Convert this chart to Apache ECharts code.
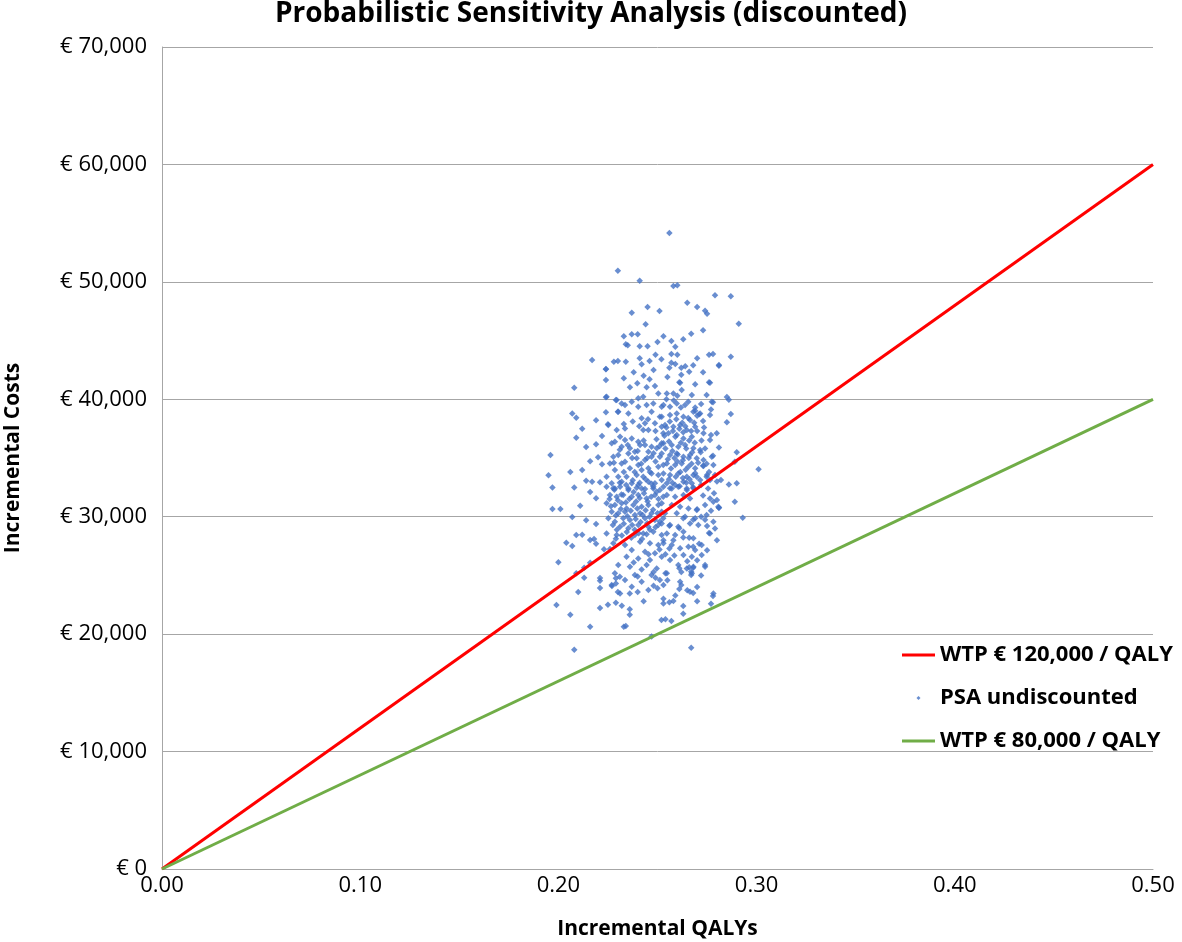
<!DOCTYPE html>
<html>
<head>
<meta charset="utf-8">
<script src="https://cdn.jsdelivr.net/npm/echarts@6/dist/echarts.min.js"></script>
<style>
html, body { margin: 0; padding: 0; background: #fff; }
#chart { width: 1182px; height: 942px; }
</style>
</head>
<body>
<div id="chart"></div>
<script>
// WTP threshold lines (QALY, cost)
var wtp120Line = [[0, 0], [0.5, 60000]];
var wtp80Line = [[0, 0], [0.5, 40000]];

// PSA iterations (QALY, cost)
var psaPoints = [
	// outliers, top
	[0.230,50950],[0.241,50100],[0.245,47860],[0.237,47370],[0.244,46390],[0.233,45360],[0.237,45530],[0.240,45530],[0.234,44680],[0.235,44600],
	[0.241,44510],[0.245,44510],[0.217,43350],[0.224,42580],[0.228,43200],[0.230,43260],[0.234,43200],[0.241,43490],[0.246,43260],[0.242,42980],
	[0.256,54160],[0.258,49650],[0.260,49710],[0.279,48860],[0.287,48770],[0.265,48220],[0.270,47860],[0.274,47540],[0.275,47290],[0.251,47520],
	[0.291,46440],[0.273,45870],[0.267,45590],[0.263,45110],[0.253,45360],[0.250,44880],[0.257,44960],[0.259,44480],[0.249,43800],[0.257,43860],
	[0.260,43800],[0.276,43800],[0.278,43860],[0.287,43630],[0.281,42860],[0.257,43120],[0.259,43010],[0.264,42810],[0.262,42690],[0.256,42690],
	[0.238,42300],[0.243,42000],[0.248,42500],[0.252,43400],[0.255,41900],[0.262,42100],[0.268,42900],[0.233,41800],[0.246,41700],[0.270,43500],
	// left side
	[0.224,42550],[0.224,41640],[0.208,40990],[0.224,40170],[0.229,39940],[0.207,38800],[0.209,38430],[0.219,38210],[0.224,38890],[0.230,38940],
	[0.225,37870],[0.212,37500],[0.209,36730],[0.214,35940],[0.222,36870],[0.219,36170],[0.196,35260],[0.195,33530],[0.206,33810],[0.212,33980],
	[0.216,34720],[0.220,35060],[0.222,34460],[0.197,32490],[0.208,32490],[0.214,33070],[0.217,32980],[0.221,32930],[0.216,32100],[0.219,31570],
	[0.197,30660],[0.201,30660],[0.211,30940],
	[0.207,29980],[0.214,29690],[0.219,29380],[0.209,28440],[0.212,28470],[0.216,28020],[0.218,28100],[0.204,27790],[0.207,27510],[0.219,27700],
	[0.223,27220],[0.229,28130],[0.226,27250],[0.200,26120],[0.216,26080],[0.209,25180],[0.213,25660],[0.213,24810],[0.221,24780],[0.221,24550],
	[0.229,24750],[0.231,24890],[0.227,24100],[0.229,24320],[0.221,23930],[0.210,23590],[0.230,23590],[0.236,23470],[0.240,23590],[0.199,22480],
	[0.225,22510],[0.229,22680],[0.221,22230],[0.232,22420],[0.236,22110],[0.236,21660],[0.206,21660],[0.216,20630],[0.233,20630],[0.234,20700],
	[0.208,18680],
	// bottom and right
	[0.267,18850],[0.247,19790],[0.252,21200],[0.254,21260],[0.257,21120],[0.263,21740],[0.277,22590],[0.278,23250],[0.253,23020],[0.256,22710],
	[0.258,22820],[0.268,23500],[0.265,23730],[0.261,23840],[0.262,24190],[0.270,24010],[0.248,24120],[0.267,25040],[0.267,25320],[0.268,25660],
	[0.266,25700],[0.274,25740],[0.261,25610],[0.254,25180],[0.249,24810],[0.280,27990],[0.276,28610],[0.271,27700],[0.268,27440],[0.275,27140],
	[0.293,29920],[0.281,30770],[0.270,30630],[0.274,29750],[0.268,29750],[0.263,29870],[0.256,29240],[0.261,29010],[0.266,28210],[0.263,28240],
	[0.258,27990],[0.253,27990],
	[0.301,34040],[0.290,35480],[0.289,34690],[0.290,32840],[0.286,32750],[0.282,33130],[0.289,31280],[0.285,38040],[0.287,38750],[0.286,39970],
	[0.285,40190],[0.281,42920],[0.276,41450],[0.273,42300],[0.278,39740],[0.277,39140],[0.272,39600],[0.273,38150],[0.269,39020],[0.271,38720],
	[0.277,36960],[0.278,35200],[0.273,34350],[0.275,33550],[0.280,31420],[0.281,30770],[0.266,42350],[0.261,41450],[0.269,41280],
	// core, upper left
	[0.2361,41020],[0.2398,41360],[0.2445,41020],[0.2487,41130],[0.2504,40500],[0.2428,40220],[0.2403,40080],[0.2370,39790],[0.2336,39510],[0.2319,39650],
	[0.2294,39940],[0.2243,40220],[0.2302,38940],[0.2353,38800],[0.2403,39370],[0.2445,39510],[0.2479,39650],[0.2521,39370],[0.2470,38940],[0.2512,38520],
	[0.2420,38380],[0.2437,37950],[0.2487,37950],[0.2521,37670],[0.2252,37810],[0.2294,37380],[0.2336,37520],[0.2428,37380],[0.2454,37380],[0.2529,37100],
	[0.2311,36810],[0.2336,36530],[0.2370,36670],[0.2403,36390],[0.2412,36100],[0.2437,36100],[0.2470,35960],[0.2269,36250],[0.2285,36390],[0.2319,35960],
	[0.2361,35820],[0.2496,35820],[0.2521,36250],[0.2277,35110],[0.2302,35250],[0.2353,35390],[0.2386,35540],[0.2454,35540],[0.2260,34540],[0.2319,34540],
	[0.2336,34680],[0.2395,34970],[0.2437,34830],[0.2470,35110],[0.2512,35110],[0.2285,33970],[0.2361,34120],[0.2403,34400],[0.2420,33970],[0.2454,34120],
	[0.2504,34260],[0.2529,34400],[0.2243,33410],[0.2302,33410],[0.2344,33410],[0.2395,33550],[0.2428,33410],[0.2470,33690],[0.2504,33550],[0.2269,32840],
	[0.2319,32980],[0.2370,32840],[0.2403,32700],[0.2454,32980],[0.2487,32840],[0.2521,33120],[0.2285,32410],[0.2353,32410],[0.2420,32410],[0.2479,32410],
	// core, upper right
	[0.2614,41410],[0.2765,41410],[0.2547,40500],[0.2580,40500],[0.2622,40790],[0.2673,40360],[0.2748,40360],[0.2774,39790],[0.2681,38940],[0.2715,38800],
	[0.2765,38660],[0.2530,39510],[0.2563,39370],[0.2597,39650],[0.2639,39510],[0.2521,38520],[0.2563,38660],[0.2597,38800],[0.2631,38520],[0.2664,38230],
	[0.2538,37810],[0.2580,37670],[0.2614,37810],[0.2648,37380],[0.2690,37670],[0.2732,37100],[0.2765,36530],[0.2799,37100],[0.2555,37100],[0.2597,36960],
	[0.2631,36670],[0.2673,36810],[0.2530,36250],[0.2572,36100],[0.2605,35960],[0.2639,36100],[0.2681,35820],[0.2715,35680],[0.2521,35390],[0.2563,35250],
	[0.2597,35390],[0.2631,35110],[0.2664,35250],[0.2698,34970],[0.2732,34830],[0.2774,35110],[0.2547,34540],[0.2589,34400],[0.2622,34540],[0.2656,34260],
	[0.2690,34120],[0.2732,34320],[0.2782,34400],[0.2530,33690],[0.2563,33550],[0.2605,33690],[0.2648,33410],[0.2681,33550],[0.2748,33410],[0.2790,33550],
	[0.2547,32840],[0.2589,32700],[0.2631,32980],[0.2673,32840],[0.2715,33120],[0.2765,33120],[0.2572,32410],[0.2648,32410],
	// core, lower left
	[0.2243,32560],[0.2277,32420],[0.2311,32560],[0.2353,32270],[0.2395,32470],[0.2437,32360],[0.2479,32560],[0.2512,32270],[0.2260,31850],[0.2294,31710],
	[0.2327,31850],[0.2370,31710],[0.2403,31850],[0.2445,31560],[0.2487,31850],[0.2529,31710],[0.2243,31140],[0.2285,31000],[0.2319,31140],[0.2344,30710],
	[0.2378,31000],[0.2420,30850],[0.2454,31000],[0.2504,31000],[0.2269,30430],[0.2302,30290],[0.2336,30430],[0.2386,30140],[0.2412,30290],[0.2470,30290],
	[0.2521,30430],[0.2252,29860],[0.2285,29580],[0.2327,29860],[0.2361,29720],[0.2437,29860],[0.2487,29720],[0.2529,29860],[0.2311,29150],[0.2353,29010],
	[0.2403,29290],[0.2454,29150],[0.2504,29290],[0.2243,28580],[0.2294,28440],[0.2386,28440],[0.2428,28580],[0.2479,28730],[0.2521,28440],[0.2277,27730],
	[0.2336,27590],[0.2412,27870],[0.2462,27730],[0.2504,27590],[0.2370,27160],[0.2437,27020],[0.2487,26880],[0.2344,26600],[0.2403,26450],[0.2462,26310],
	[0.2521,26600],[0.2302,25890],[0.2361,25740],[0.2445,25890],[0.2496,25600],[0.2285,25180],[0.2386,25030],[0.2470,25030],[0.2336,24610],[0.2420,24470],
	[0.2512,24610],[0.2269,24180],[0.2370,24040],[0.2454,23760],[0.2311,23470],
	// core, lower right
	[0.2530,32560],[0.2563,32420],[0.2605,32560],[0.2648,32270],[0.2681,32420],[0.2547,31850],[0.2589,31710],[0.2631,31850],[0.2664,31560],[0.2765,31560],
	[0.2782,31280],[0.2521,31140],[0.2572,31000],[0.2614,30850],[0.2656,30710],[0.2698,30570],[0.2740,31000],[0.2807,30850],[0.2538,30290],[0.2597,30290],
	[0.2639,30000],[0.2690,29860],[0.2748,30140],[0.2782,29580],[0.2521,29430],[0.2563,29290],[0.2605,29150],[0.2664,29430],[0.2706,29290],[0.2765,28580],
	[0.2547,28580],[0.2589,28440],[0.2631,28730],[0.2681,28160],[0.2723,27590],[0.2530,27730],[0.2572,27590],[0.2614,27310],[0.2656,27450],[0.2690,27160],
	[0.2631,26740],[0.2673,26600],[0.2723,26740],[0.2563,26310],[0.2605,25890],[0.2648,25600],[0.2681,25740],[0.2740,25890],[0.2547,25180],[0.2673,25180],
	[0.2614,24470],[0.2530,24180],[0.2664,23620],[0.2782,23470],
	// densest spot, lower left of the cloud
	[0.2290,30100],[0.2315,30650],[0.2330,29400],[0.2348,30050],[0.2365,30500],[0.2372,29300],[0.2390,29800],[0.2398,30700],[0.2415,29550],[0.2425,30150],
	[0.2440,30550],[0.2448,29450],[0.2460,30000],[0.2478,30600],[0.2300,31400],[0.2318,31900],[0.2340,31200],[0.2358,31500],[0.2380,32100],[0.2392,31300],
	[0.2410,31600],[0.2432,32000],[0.2450,31300],[0.2468,31700],[0.2295,28900],[0.2320,28400],[0.2345,28700],[0.2368,28200],[0.2385,28900],[0.2405,28600],
	[0.2422,28100],[0.2445,28500],[0.2462,28900],[0.2490,29100],[0.2265,30900],[0.2275,29300],[0.2258,31500],[0.2282,32300],[0.2310,32900],[0.2342,32700],
	[0.2375,33100],[0.2410,32900],[0.2440,33200],[0.2470,32800],[0.2495,32100],[0.2500,30300],[0.2512,29600],[0.2505,31500],
	// densest spot, upper right of the cloud
	[0.2540,35800],[0.2558,36400],[0.2575,35600],[0.2590,36800],[0.2602,35300],[0.2618,36300],[0.2630,37200],[0.2645,35800],[0.2660,36500],[0.2675,35500],
	[0.2688,36300],[0.2700,37300],[0.2552,34900],[0.2568,34100],[0.2585,35000],[0.2600,34700],[0.2615,33800],[0.2628,34800],[0.2642,34000],[0.2658,35000],
	[0.2672,34500],[0.2690,33700],[0.2705,34600],[0.2718,35500],[0.2545,37600],[0.2562,38100],[0.2578,37300],[0.2595,38300],[0.2610,37500],[0.2625,38000],
	[0.2640,37700],[0.2655,38400],[0.2670,37300],[0.2685,38000],[0.2700,38600],[0.2558,33200],[0.2575,32900],[0.2592,33400],[0.2612,32600],[0.2628,33300],
	[0.2645,32900],[0.2662,33200],[0.2680,32500],[0.2698,33400],[0.2720,32700],[0.2535,36900],[0.2722,36500],[0.2740,35800],[0.2748,34500],[0.2735,37600],
	[0.2582,39900],[0.2618,39300],[0.2655,39800],[0.2690,39300],[0.2545,40000],[0.2600,40300],
	// filling between
	[0.2280,34600],[0.2310,35700],[0.2330,33800],[0.2350,36100],[0.2372,35000],[0.2385,33800],[0.2400,35600],[0.2418,34500],[0.2430,36500],[0.2448,35000],
	[0.2462,33800],[0.2480,35400],[0.2495,36600],[0.2490,34700],[0.2330,37900],[0.2375,38100],[0.2408,37700],[0.2452,38300],[0.2490,37300],[0.2510,36000],
	[0.2380,26100],[0.2420,25500],[0.2455,26800],[0.2480,25300],[0.2510,27200],[0.2540,26800],[0.2560,27300],[0.2585,26700],[0.2620,25300],[0.2650,26200],
	[0.2700,26300],[0.2720,25000],[0.2500,23900],[0.2530,22600],[0.2590,23300],[0.2630,22400],[0.2700,22800],[0.2430,22800],[0.2400,24900],[0.2550,24600],
	[0.2730,31800],[0.2755,32400],[0.2770,30500],[0.2785,32000],[0.2720,30000],[0.2750,29200],[0.2790,29000],[0.2760,33800],[0.2800,33000],[0.2810,35900]
];

var fontName = "'Open Sans', 'DejaVu Sans', sans-serif";

// legend icons: a 3px line, and a small diamond inside a 33x5 box
var lineIcon = 'path://M0,0L0,0ZM0,1L33,1L33,4L0,4ZM33,5L33,5Z';
var dotIcon = 'path://M0,0L0,0ZM33,5L33,5ZM16.5,0.5L18.5,2.5L16.5,4.5L14.5,2.5Z';

var dom = document.getElementById("chart");
var myChart = echarts.init(dom);
var option = {
	backgroundColor: '#ffffff',
	animation: false,
	title: {
		text: 'Probabilistic Sensitivity Analysis (discounted)',
		left: 'center',
		top: -5,
		textStyle: {
			fontFamily: fontName,
			fontSize: 28,
			fontWeight: 'bold',
			color: '#000'
		}
	},
	grid: {
		left: 162,
		right: 29,
		top: 47,
		bottom: 73,
		outerBoundsMode: 'none',
		containLabel: false
	},
	legend: {
		orient: 'vertical',
		left: 897,
		top: 639,
		itemWidth: 33,
		itemHeight: 5,
		itemGap: 21,
		symbolKeepAspect: false,
		textStyle: {
			fontFamily: fontName,
			fontSize: 22,
			fontWeight: 'bold',
			color: '#000'
		},
		data: [
			{ name: 'WTP € 120,000 / QALY', icon: lineIcon },
			{ name: 'PSA undiscounted', icon: dotIcon },
			{ name: 'WTP € 80,000 / QALY', icon: lineIcon }
		]
	},
	xAxis: {
		type: 'value',
		min: 0,
		max: 0.5,
		interval: 0.1,
		name: 'Incremental QALYs',
		nameLocation: 'middle',
		nameGap: 50,
		nameTextStyle: {
			fontFamily: fontName,
			fontSize: 21,
			fontWeight: 'bold',
			color: '#000'
		},
		axisLine: { lineStyle: { color: '#a6a6a6', width: 1 } },
		axisTick: { show: false },
		splitLine: { show: false },
		axisLabel: {
			fontFamily: fontName,
			fontSize: 22,
			color: '#000',
			margin: 6,
			formatter: function (v) { return v.toFixed(2); }
		}
	},
	yAxis: {
		type: 'value',
		min: 0,
		max: 70000,
		interval: 10000,
		name: 'Incremental Costs',
		nameLocation: 'middle',
		nameGap: 138,
		nameTextStyle: {
			fontFamily: fontName,
			fontSize: 21,
			fontWeight: 'bold',
			color: '#000'
		},
		axisLine: { show: true, lineStyle: { color: '#a6a6a6', width: 1 } },
		axisTick: { show: false },
		splitLine: { lineStyle: { color: '#a6a6a6', width: 1 } },
		axisLabel: {
			fontFamily: fontName,
			fontSize: 22,
			color: '#000',
			margin: 15,
			formatter: function (v) { return '€ ' + v.toLocaleString('en-US'); }
		}
	},
	series: [
		{
			name: 'WTP € 120,000 / QALY',
			type: 'line',
			data: wtp120Line,
			symbol: 'none',
			z: 3,
			lineStyle: { color: '#ff0000', width: 3 },
			itemStyle: { color: '#ff0000' }
		},
		{
			name: 'PSA undiscounted',
			type: 'scatter',
			data: psaPoints,
			symbol: 'diamond',
			symbolSize: 6.5,
			z: 2,
			itemStyle: { color: '#4472c4' }
		},
		{
			name: 'WTP € 80,000 / QALY',
			type: 'line',
			data: wtp80Line,
			symbol: 'none',
			z: 3,
			lineStyle: { color: '#70ad47', width: 3 },
			itemStyle: { color: '#70ad47' }
		}
	]
};
if (option && typeof option === "object") {
	myChart.setOption(option, true);
}
</script>
</body>
</html>
